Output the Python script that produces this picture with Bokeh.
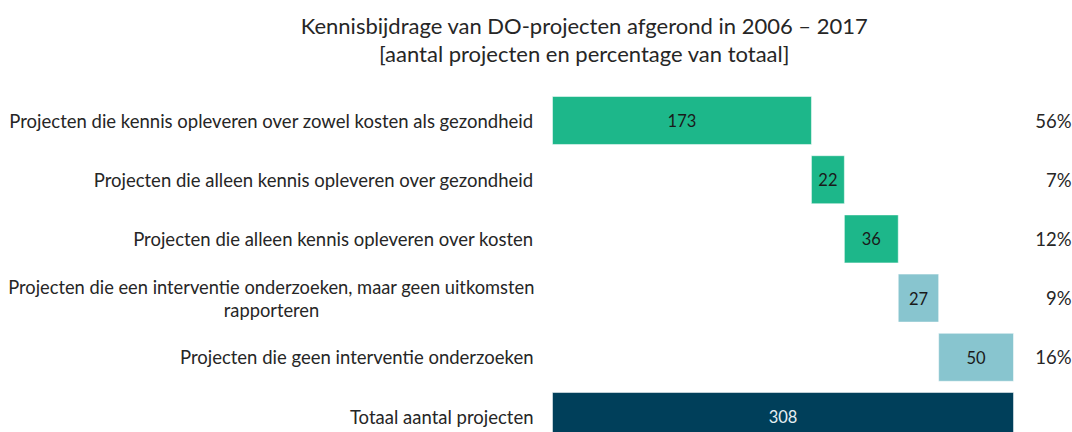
from bokeh.plotting import figure
from bokeh.models import ColumnDataSource, Range1d
from bokeh.core.properties import value
from bokeh.embed import file_html
from bokeh.resources import INLINE

# ---- data ----
categories = [
    "Projecten die kennis opleveren over zowel kosten als gezondheid",
    "Projecten die alleen kennis opleveren over gezondheid",
    "Projecten die alleen kennis opleveren over kosten",
    "Projecten die een interventie onderzoeken, maar geen uitkomsten\nrapporteren",
    "Projecten die geen interventie onderzoeken",
]
total_label = "Totaal aantal projecten"
counts = [173, 22, 36, 27, 50]
total = 308
shares = [56, 7, 12, 9, 16]
groups = ["kennis", "kennis", "kennis", "geen", "geen"]
title_lines = [
    "Kennisbijdrage van DO-projecten afgerond in 2006 \u2013 2017",
    "[aantal projecten en percentage van totaal]",
]

# ---- styles ----
FONT = "Lato"
TXT = "#262626"
colors = {"kennis": "#1db78a", "geen": "#88c5cf", "totaal": "#003f5a"}
num_colors = {"kennis": "#1a1a1a", "geen": "#1a1a1a", "totaal": "#e6eef2"}
BAR_H = 0.81

lefts = []
acc = 0
for c in counts:
    lefts.append(acc)
    acc += c
rights = [l + c for l, c in zip(lefts, counts)]

rows = list(range(len(counts)))
src = ColumnDataSource(dict(
    y=rows + [len(counts)],
    left=lefts + [0],
    right=rights + [total],
    mid=[(l + r) / 2 for l, r in zip(lefts + [0], rights + [total])],
    num=[str(c) for c in counts] + [str(total)],
    color=[colors[g] for g in groups] + [colors["totaal"]],
    ncolor=[num_colors[g] for g in groups] + [num_colors["totaal"]],
))

W, H = 1072, 432
px_per_unit = 461.0 / total
x0_px = 552.0          # position of x=0 inside canvas
row0_px = 120.0        # centre of first row inside canvas
row_px = 59.2

x_start = -x0_px / px_per_unit
x_end = (W - x0_px) / px_per_unit
y_top = -row0_px / row_px
y_bot = (H - row0_px) / row_px

p = figure(width=W, height=H, output_backend="svg", toolbar_location=None,
           x_range=Range1d(x_start, x_end), y_range=Range1d(y_bot, y_top),
           min_border=0, min_border_left=0, min_border_right=0,
           min_border_top=0, min_border_bottom=0)
p.axis.visible = False
p.grid.visible = False
p.outline_line_color = None
p.background_fill_color = "white"
p.border_fill_color = "white"

p.hbar(y="y", left="left", right="right", height=BAR_H, source=src,
       fill_color="color", line_color="white", line_alpha=0.5, line_width=1)

p.text(x="mid", y="y", text="num", source=src, text_align="center",
       text_baseline="middle", text_font=value(FONT), text_font_size="16.5px",
       text_color="ncolor")

# category labels
single = [(c, r) for c, r in zip(categories, rows) if "\n" not in c]
multi = [(c, r) for c, r in zip(categories, rows) if "\n" in c]
lab_src = ColumnDataSource(dict(
    x=[0] * (len(single) + 1),
    y=[r for _, r in single] + [len(counts)],
    t=[c for c, _ in single] + [total_label],
))
p.text(x="x", y="y", text="t", source=lab_src, text_align="right",
       text_baseline="middle", x_offset=-19, text_font=value(FONT),
       text_font_size="18.5px", text_color=TXT)
if multi:
    m_src = ColumnDataSource(dict(x=[0] * len(multi), y=[r for _, r in multi],
                                  t=[c for c, _ in multi]))
    p.text(x="x", y="y", text="t", source=m_src, text_align="center",
           text_baseline="middle", x_offset=-281, text_font=value(FONT),
           text_font_size="18.3px", text_color=TXT, text_line_height=1.05)

# percentages
pct_src = ColumnDataSource(dict(x=[total] * len(shares), y=rows,
                                t=[f"{s}%" for s in shares]))
p.text(x="x", y="y", text="t", source=pct_src, text_align="right",
       text_baseline="middle", x_offset=58, text_font=value(FONT),
       text_font_size="18.5px", text_color=TXT)

# title
t_src = ColumnDataSource(dict(x=[0, 0], y=[y_top, y_top], t=title_lines,
                              yo=[25, 53]))
p.text(x="x", y="y", text="t", source=t_src, text_align="center",
       text_baseline="middle", x_offset=32, y_offset="yo",
       text_font=value(FONT), text_font_size="22px", text_color=TXT)

open("out.html", "w").write(file_html(p, INLINE))
